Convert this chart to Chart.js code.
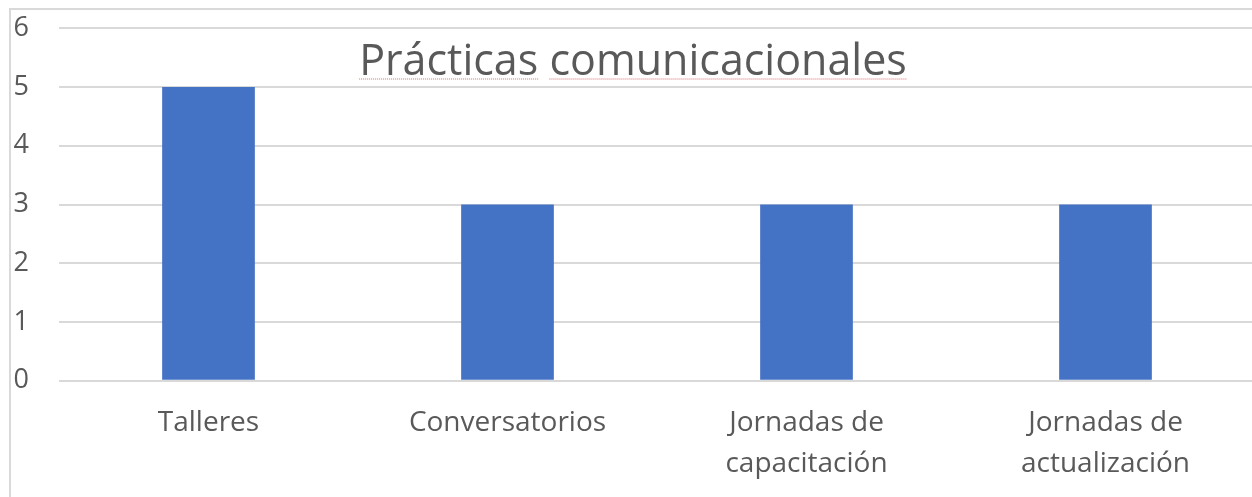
<!DOCTYPE html>
<html><head><meta charset="utf-8">
<script src="https://cdn.jsdelivr.net/npm/chart.js@4/dist/chart.umd.min.js"></script>
<style>
html,body{margin:0;padding:0;background:#fff;overflow:hidden;width:1252px;height:497px;}
#frame{position:absolute;left:9px;top:8px;width:1300px;height:600px;border-left:2px solid #d9d9d9;border-top:2px solid #d9d9d9;}
#wrap{position:absolute;left:0;top:-18px;width:1262px;height:534px;}
</style></head><body>
<div id="frame"></div>
<div id="wrap"><canvas id="c"></canvas></div>
<script>
const categories = ['Talleres', 'Conversatorios', ['Jornadas de', 'capacitación'], ['Jornadas de', 'actualización']];
const values = [5, 3, 3, 3];
const yTicks = [0, 1, 2, 3, 4, 5, 6];
const titleText = 'Prácticas comunicacionales';

const FONT = "'Open Sans', sans-serif";
const titlePlugin = {
  id: 'innerTitle',
  afterDatasetsDraw(chart) {
    const ctx = chart.ctx;
    ctx.save();
    ctx.font = "43px " + FONT;
    ctx.fillStyle = '#595959';
    ctx.textAlign = 'center';
    ctx.textBaseline = 'alphabetic';
    const cx = 633, by = 93;
    ctx.fillText(titleText, cx, by);
    const w = ctx.measureText(titleText).width;
    const sp = ctx.measureText(' ').width;
    const w1 = ctx.measureText('Prácticas').width;
    const x0 = cx - w / 2;
    ctx.strokeStyle = '#e06666';
    ctx.lineWidth = 1;
    ctx.setLineDash([1, 1]);
    ctx.beginPath();
    ctx.moveTo(x0, by + 4); ctx.lineTo(x0 + w1, by + 4);
    ctx.moveTo(x0 + w1 + sp, by + 4); ctx.lineTo(x0 + w, by + 4);
    ctx.stroke();
    ctx.restore();
  }
};

new Chart(document.getElementById('c'), {
  type: 'bar',
  data: {
    labels: categories,
    datasets: [{ data: values, backgroundColor: '#4472C4', categoryPercentage: 1, barPercentage: 0.31 }]
  },
  options: {
    responsive: true, maintainAspectRatio: false, animation: false,
    layout: { padding: { left: 11, top: 0, right: 7, bottom: 10 } },
    plugins: { legend: { display: false }, tooltip: { enabled: false } },
    scales: {
      y: {
        min: 0, max: 6,
        afterBuildTicks: s => { s.ticks = yTicks.map(v => ({ value: v })); },
        afterFit: s => { s.width = 48; },
        border: { display: false },
        grid: { color: '#d9d9d9', lineWidth: 2, drawTicks: false },
        ticks: { color: '#595959', font: { family: FONT, size: 27 }, padding: 30 }
      },
      x: {
        border: { display: false },
        grid: { display: false, drawTicks: false },
        ticks: { color: '#595959', font: { family: FONT, size: 28, lineHeight: 1.45 }, padding: 22, maxRotation: 0, autoSkip: false }
      }
    }
  },
  plugins: [titlePlugin]
});
</script>
</body></html>
